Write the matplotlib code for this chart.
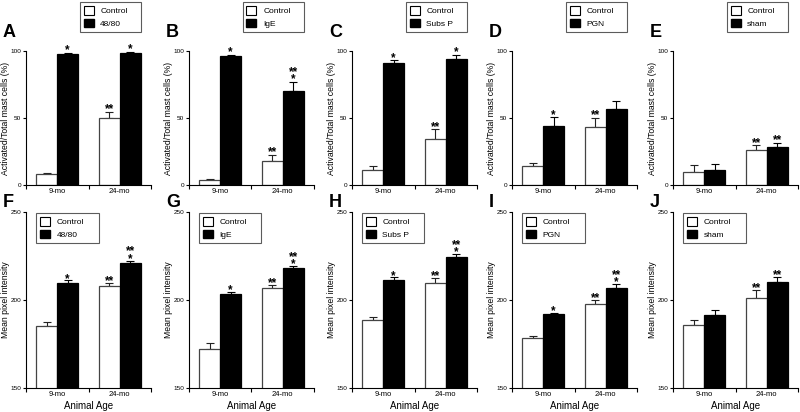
import matplotlib
matplotlib.use("Agg")
import matplotlib.pyplot as plt
from matplotlib.patches import Patch

plt.rcParams["font.family"] = ["Liberation Sans", "DejaVu Sans"]

# data
row_top_letters = ["A", "B", "C", "D", "E"]
row_bot_letters = ["F", "G", "H", "I", "J"]
treatments = ["48/80", "IgE", "Subs P", "PGN", "sham"]
ages = ["9-mo", "24-mo"]

act_control = [[8.2, 50], [3.5, 18], [11, 34], [14, 43], [10, 26.4]]
act_control_err = [[1, 4.7], [1, 4.4], [3, 7.5], [2.7, 7], [4.7, 3.2]]
act_treat = [[97.5, 98.8], [96, 70], [91, 94], [44, 56.5], [11.4, 28]]
act_treat_err = [[0.8, 0.5], [1.2, 7], [2, 3], [6.5, 6.2], [4, 3.3]]

mpi_control = [[185.2, 207.8], [172.3, 207], [188.7, 209.4], [178.3, 197.9], [185.6, 201.1]]
mpi_control_err = [[2.1, 1.9], [3, 1.5], [1.5, 3.2], [1.5, 2.1], [3, 4.8]]
mpi_treat = [[209.5, 220.8], [203.6, 218.3], [211.1, 224.5], [191.9, 207], [191.7, 210]]
mpi_treat_err = [[1.7, 1.5], [0.9, 0.9], [1.7, 1.5], [0.9, 2.2], [2.6, 3.3]]

act_stars_control = [["", "**"], ["", "**"], ["", "**"], ["", "**"], ["", "**"]]
act_stars_treat = [["*", "*"], ["*", "**\n*"], ["*", "*"], ["*", ""], ["", "**"]]
mpi_stars_control = [["", "**"], ["", "**"], ["", "**"], ["", "**"], ["", "**"]]
mpi_stars_treat = [["*", "**\n*"], ["*", "**\n*"], ["*", "**\n*"], ["*", "**\n*"], ["", "**"]]

W, H = 800, 412
fig = plt.figure(figsize=(8, 4.12), dpi=100)

lefts = [26, 189, 352, 512, 673]
ax_w = 125


def px_axes(x0, y0, x1, y1):
    return fig.add_axes([x0 / W, 1 - y1 / H, (x1 - x0) / W, (y1 - y0) / H])


def draw_panel(ax, ctrl, ctrl_err, trt, trt_err, s_ctrl, s_trt, ylim, yticks, ylabel, trt_name, top):
    centers = [1, 3]
    bw = 0.667
    xc = [c - bw / 2 for c in centers]
    xt = [c + bw / 2 for c in centers]
    ax.bar(xc, ctrl, width=bw, bottom=0, color="white", edgecolor="#444444", linewidth=0.9, zorder=2)
    ax.bar(xt, trt, width=bw, color="black", edgecolor="black", linewidth=0.9, zorder=2)
    ax.errorbar(xc, ctrl, yerr=[[0, 0], ctrl_err], fmt="none", ecolor="#222222",
                elinewidth=0.8, capsize=3, capthick=0.8, zorder=1)
    ax.errorbar(xt, trt, yerr=[[0, 0], trt_err], fmt="none", ecolor="black",
                elinewidth=0.8, capsize=3, capthick=0.8, zorder=1)
    span = ylim[1] - ylim[0]
    for xs, vals, errs, stars in [(xc, ctrl, ctrl_err, s_ctrl), (xt, trt, trt_err, s_trt)]:
        for x, v, e, s in zip(xs, vals, errs, stars):
            if s:
                ax.text(x, v + e - 0.025 * span, s, ha="center", va="bottom",
                        fontsize=8.5, fontweight="bold", linespacing=0.5)
    ax.set_xlim(0, 4)
    ax.set_ylim(*ylim)
    ax.set_yticks(yticks)
    ax.set_yticklabels([str(t) for t in yticks], fontsize=4.6)
    ax.set_xticks([0, 2, 4])
    ax.set_xticklabels([])
    ax.set_xticks(centers, minor=True)
    ax.set_xticklabels(ages, minor=True, fontsize=5.5)
    ax.tick_params(axis="x", which="minor", length=0, pad=2.5)
    ax.tick_params(axis="x", which="major", length=3, width=0.8)
    ax.tick_params(axis="y", length=2.5, width=0.8, pad=0.8)
    for side in ["top", "right"]:
        ax.spines[side].set_visible(False)
    for side in ["left", "bottom"]:
        ax.spines[side].set_linewidth(0.8)
    ax.set_ylabel(ylabel, fontsize=6.2)
    ax.yaxis.set_label_coords(-0.128, 0.5)
    handles = [Patch(facecolor="white", edgecolor="black", linewidth=0.8, label="Control"),
               Patch(facecolor="black", edgecolor="black", label=trt_name)]
    if top:
        bbox = (0.43, 1.134, 0.49, 0.24)
    else:
        bbox = (0.08, 0.818, 0.5, 0.182)
    leg = ax.legend(handles=handles, loc="center", bbox_to_anchor=bbox, mode="expand",
                    fontsize=6, frameon=True, fancybox=False, handlelength=1.2,
                    handleheight=1.2, handletextpad=0.8, borderpad=0.45, labelspacing=0.45,
                    borderaxespad=0)
    leg.get_frame().set_edgecolor("#333333")
    leg.get_frame().set_linewidth(0.8)


for i in range(5):
    ax = px_axes(lefts[i], 51, lefts[i] + ax_w, 185)
    draw_panel(ax, act_control[i], act_control_err[i], act_treat[i], act_treat_err[i],
               act_stars_control[i], act_stars_treat[i], (0, 100), [0, 50, 100],
               "Activated/Total mast cells (%)", treatments[i], True)
    fig.text((lefts[i] - 23) / W, 1 - 37 / H, row_top_letters[i], fontsize=13,
             fontweight="bold", ha="left", va="baseline")

    ax = px_axes(lefts[i], 212, lefts[i] + ax_w, 388)
    draw_panel(ax, mpi_control[i], mpi_control_err[i], mpi_treat[i], mpi_treat_err[i],
               mpi_stars_control[i], mpi_stars_treat[i], (150, 250), [150, 200, 250],
               "Mean pixel intensity", treatments[i], False)
    ax.set_xlabel("Animal Age", fontsize=7, labelpad=2)
    fig.text((lefts[i] - 23) / W, 1 - 207 / H, row_bot_letters[i], fontsize=13,
             fontweight="bold", ha="left", va="baseline")

fig.savefig("out.png", dpi=100)
